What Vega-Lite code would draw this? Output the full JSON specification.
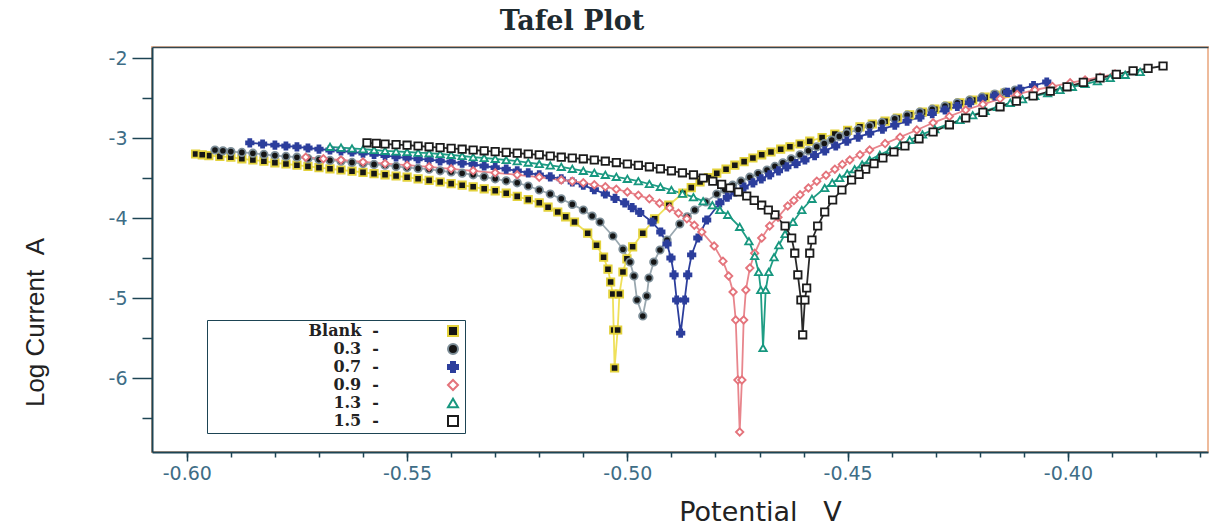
{
"$schema": "https://vega.github.io/schema/vega-lite/v6.json",
"width": 1056, "height": 405,
"autosize": {"type": "none"},
"padding": {"left": 152, "top": 47, "right": 5, "bottom": 77},
"background": "white",
"title": {"text": "Tafel Plot", "font": "DejaVu Serif", "fontSize": 27, "fontWeight": "bold", "color": "#1e2b30", "anchor": "middle", "dx": -108, "offset": 11},
"config": {
  "view": {"stroke": "#eebb9c", "strokeWidth": 2},
  "axis": {"labelFont": "DejaVu Sans", "labelFontSize": 19, "labelColor": "#3e6d86", "tickColor": "#1d4454", "tickWidth": 1.5, "domainColor": "#1d4454", "domainWidth": 2, "grid": false},
  "legend": {"orient": "none", "legendX": 55, "legendY": 273, "padding": 3, "strokeColor": "#1d4454", "fillColor": "white", "labelFont": "DejaVu Serif", "labelFontSize": 16, "labelFontWeight": "bold", "labelColor": "#222222", "labelAlign": "right", "labelOffset": -82, "symbolOffset": 235, "rowPadding": 0, "symbolSize": 100, "symbolStrokeWidth": 2, "symbolOpacity": 1}
},
"datasets": {"tafel": [
{"series":"Blank","E":-0.598,"logI":-3.20},{"series":"Blank","E":-0.595,"logI":-3.22},{"series":"Blank","E":-0.590,"logI":-3.24},{"series":"Blank","E":-0.585,"logI":-3.275},{"series":"Blank","E":-0.580,"logI":-3.31},{"series":"Blank","E":-0.575,"logI":-3.34},{"series":"Blank","E":-0.570,"logI":-3.37},{"series":"Blank","E":-0.565,"logI":-3.40},{"series":"Blank","E":-0.560,"logI":-3.43},{"series":"Blank","E":-0.555,"logI":-3.46},{"series":"Blank","E":-0.550,"logI":-3.49},{"series":"Blank","E":-0.545,"logI":-3.53},{"series":"Blank","E":-0.540,"logI":-3.57},{"series":"Blank","E":-0.535,"logI":-3.61},{"series":"Blank","E":-0.530,"logI":-3.66},{"series":"Blank","E":-0.525,"logI":-3.73},{"series":"Blank","E":-0.520,"logI":-3.81},{"series":"Blank","E":-0.5158,"logI":-3.925},{"series":"Blank","E":-0.512,"logI":-4.05},{"series":"Blank","E":-0.509,"logI":-4.19},{"series":"Blank","E":-0.507,"logI":-4.34},{"series":"Blank","E":-0.5054,"logI":-4.49},{"series":"Blank","E":-0.5044,"logI":-4.64},{"series":"Blank","E":-0.5038,"logI":-4.80},{"series":"Blank","E":-0.5033,"logI":-4.95},{"series":"Blank","E":-0.5031,"logI":-5.40},{"series":"Blank","E":-0.5029,"logI":-5.875},{"series":"Blank","E":-0.5022,"logI":-5.40},{"series":"Blank","E":-0.5018,"logI":-4.95},{"series":"Blank","E":-0.501,"logI":-4.675},{"series":"Blank","E":-0.5001,"logI":-4.51},{"series":"Blank","E":-0.4988,"logI":-4.36},{"series":"Blank","E":-0.4965,"logI":-4.19},{"series":"Blank","E":-0.4938,"logI":-4.01},{"series":"Blank","E":-0.4906,"logI":-3.84},{"series":"Blank","E":-0.4874,"logI":-3.69},{"series":"Blank","E":-0.4835,"logI":-3.55},{"series":"Blank","E":-0.4797,"logI":-3.44},{"series":"Blank","E":-0.4756,"logI":-3.34},{"series":"Blank","E":-0.4715,"logI":-3.25},{"series":"Blank","E":-0.4674,"logI":-3.175},{"series":"Blank","E":-0.4631,"logI":-3.11},{"series":"Blank","E":-0.4586,"logI":-3.04},{"series":"Blank","E":-0.4529,"logI":-2.95},{"series":"Blank","E":-0.4472,"logI":-2.86},{"series":"Blank","E":-0.4415,"logI":-2.79},{"series":"Blank","E":-0.4359,"logI":-2.71},{"series":"Blank","E":-0.4302,"logI":-2.64},{"series":"Blank","E":-0.4245,"logI":-2.56},{"series":"Blank","E":-0.4188,"logI":-2.49},{"series":"Blank","E":-0.4143,"logI":-2.44},
{"series":"Blank","E":-0.5965,"logI":-3.21},{"series":"Blank","E":-0.5925,"logI":-3.23},{"series":"Blank","E":-0.5875,"logI":-3.26},{"series":"Blank","E":-0.5825,"logI":-3.29},{"series":"Blank","E":-0.5775,"logI":-3.325},{"series":"Blank","E":-0.5725,"logI":-3.355},{"series":"Blank","E":-0.5675,"logI":-3.385},{"series":"Blank","E":-0.5625,"logI":-3.415},{"series":"Blank","E":-0.5575,"logI":-3.445},{"series":"Blank","E":-0.5525,"logI":-3.475},{"series":"Blank","E":-0.5475,"logI":-3.51},{"series":"Blank","E":-0.5425,"logI":-3.55},{"series":"Blank","E":-0.5375,"logI":-3.59},{"series":"Blank","E":-0.5325,"logI":-3.635},{"series":"Blank","E":-0.5275,"logI":-3.69},{"series":"Blank","E":-0.5225,"logI":-3.77},{"series":"Blank","E":-0.518,"logI":-3.865},{"series":"Blank","E":-0.514,"logI":-3.985},
{"series":"Blank","E":-0.4855,"logI":-3.62},{"series":"Blank","E":-0.4816,"logI":-3.495},{"series":"Blank","E":-0.4776,"logI":-3.39},{"series":"Blank","E":-0.4735,"logI":-3.295},{"series":"Blank","E":-0.4695,"logI":-3.21},{"series":"Blank","E":-0.4652,"logI":-3.14},{"series":"Blank","E":-0.4608,"logI":-3.075},{"series":"Blank","E":-0.4558,"logI":-2.995},{"series":"Blank","E":-0.45,"logI":-2.905},{"series":"Blank","E":-0.4444,"logI":-2.825},{"series":"Blank","E":-0.4387,"logI":-2.75},{"series":"Blank","E":-0.433,"logI":-2.675},{"series":"Blank","E":-0.4273,"logI":-2.60},{"series":"Blank","E":-0.4216,"logI":-2.525},{"series":"Blank","E":-0.4165,"logI":-2.465},
{"series":"0.3","E":-0.5936,"logI":-3.15},{"series":"0.3","E":-0.590,"logI":-3.17},{"series":"0.3","E":-0.585,"logI":-3.19},{"series":"0.3","E":-0.580,"logI":-3.22},{"series":"0.3","E":-0.575,"logI":-3.24},{"series":"0.3","E":-0.570,"logI":-3.27},{"series":"0.3","E":-0.565,"logI":-3.29},{"series":"0.3","E":-0.560,"logI":-3.32},{"series":"0.3","E":-0.555,"logI":-3.34},{"series":"0.3","E":-0.550,"logI":-3.37},{"series":"0.3","E":-0.545,"logI":-3.39},{"series":"0.3","E":-0.540,"logI":-3.425},{"series":"0.3","E":-0.535,"logI":-3.46},{"series":"0.3","E":-0.530,"logI":-3.51},{"series":"0.3","E":-0.525,"logI":-3.56},{"series":"0.3","E":-0.520,"logI":-3.65},{"series":"0.3","E":-0.515,"logI":-3.76},{"series":"0.3","E":-0.510,"logI":-3.90},{"series":"0.3","E":-0.5062,"logI":-4.05},{"series":"0.3","E":-0.5033,"logI":-4.225},{"series":"0.3","E":-0.501,"logI":-4.39},{"series":"0.3","E":-0.4994,"logI":-4.55},{"series":"0.3","E":-0.4985,"logI":-4.725},{"series":"0.3","E":-0.4978,"logI":-5.025},{"series":"0.3","E":-0.4965,"logI":-5.225},{"series":"0.3","E":-0.4956,"logI":-4.975},{"series":"0.3","E":-0.4951,"logI":-4.75},{"series":"0.3","E":-0.494,"logI":-4.55},{"series":"0.3","E":-0.4926,"logI":-4.40},{"series":"0.3","E":-0.491,"logI":-4.275},{"series":"0.3","E":-0.4881,"logI":-4.075},{"series":"0.3","E":-0.4847,"logI":-3.90},{"series":"0.3","E":-0.4797,"logI":-3.70},{"series":"0.3","E":-0.4761,"logI":-3.59},{"series":"0.3","E":-0.4722,"logI":-3.49},{"series":"0.3","E":-0.4683,"logI":-3.40},{"series":"0.3","E":-0.4647,"logI":-3.31},{"series":"0.3","E":-0.4608,"logI":-3.21},{"series":"0.3","E":-0.457,"logI":-3.11},{"series":"0.3","E":-0.4536,"logI":-3.025},{"series":"0.3","E":-0.4502,"logI":-2.94},{"series":"0.3","E":-0.445,"logI":-2.85},{"series":"0.3","E":-0.4393,"logI":-2.76},{"series":"0.3","E":-0.4336,"logI":-2.675},{"series":"0.3","E":-0.4279,"logI":-2.60},{"series":"0.3","E":-0.4223,"logI":-2.525},{"series":"0.3","E":-0.4166,"logI":-2.45},{"series":"0.3","E":-0.412,"logI":-2.40},
{"series":"0.3","E":-0.5918,"logI":-3.16},{"series":"0.3","E":-0.5875,"logI":-3.18},{"series":"0.3","E":-0.5825,"logI":-3.205},{"series":"0.3","E":-0.5775,"logI":-3.23},{"series":"0.3","E":-0.5725,"logI":-3.255},{"series":"0.3","E":-0.5675,"logI":-3.28},{"series":"0.3","E":-0.5625,"logI":-3.305},{"series":"0.3","E":-0.5575,"logI":-3.33},{"series":"0.3","E":-0.5525,"logI":-3.355},{"series":"0.3","E":-0.5475,"logI":-3.38},{"series":"0.3","E":-0.5425,"logI":-3.41},{"series":"0.3","E":-0.5375,"logI":-3.44},{"series":"0.3","E":-0.5325,"logI":-3.485},{"series":"0.3","E":-0.5275,"logI":-3.535},{"series":"0.3","E":-0.5225,"logI":-3.60},{"series":"0.3","E":-0.5175,"logI":-3.70},{"series":"0.3","E":-0.5125,"logI":-3.83},{"series":"0.3","E":-0.508,"logI":-3.975},
{"series":"0.3","E":-0.4864,"logI":-3.985},{"series":"0.3","E":-0.4822,"logI":-3.80},{"series":"0.3","E":-0.4779,"logI":-3.645},{"series":"0.3","E":-0.4742,"logI":-3.54},{"series":"0.3","E":-0.4703,"logI":-3.445},{"series":"0.3","E":-0.4665,"logI":-3.355},{"series":"0.3","E":-0.4628,"logI":-3.26},{"series":"0.3","E":-0.4589,"logI":-3.16},{"series":"0.3","E":-0.4553,"logI":-3.07},{"series":"0.3","E":-0.4519,"logI":-2.98},{"series":"0.3","E":-0.4476,"logI":-2.895},{"series":"0.3","E":-0.4422,"logI":-2.805},{"series":"0.3","E":-0.4365,"logI":-2.715},{"series":"0.3","E":-0.4308,"logI":-2.64},{"series":"0.3","E":-0.4251,"logI":-2.56},{"series":"0.3","E":-0.4195,"logI":-2.49},{"series":"0.3","E":-0.4143,"logI":-2.425},
{"series":"0.7","E":-0.5857,"logI":-3.06},{"series":"0.7","E":-0.580,"logI":-3.09},{"series":"0.7","E":-0.575,"logI":-3.11},{"series":"0.7","E":-0.570,"logI":-3.14},{"series":"0.7","E":-0.565,"logI":-3.16},{"series":"0.7","E":-0.560,"logI":-3.19},{"series":"0.7","E":-0.555,"logI":-3.22},{"series":"0.7","E":-0.550,"logI":-3.25},{"series":"0.7","E":-0.545,"logI":-3.27},{"series":"0.7","E":-0.540,"logI":-3.30},{"series":"0.7","E":-0.535,"logI":-3.33},{"series":"0.7","E":-0.530,"logI":-3.37},{"series":"0.7","E":-0.525,"logI":-3.41},{"series":"0.7","E":-0.520,"logI":-3.46},{"series":"0.7","E":-0.515,"logI":-3.51},{"series":"0.7","E":-0.510,"logI":-3.59},{"series":"0.7","E":-0.505,"logI":-3.70},{"series":"0.7","E":-0.5006,"logI":-3.81},{"series":"0.7","E":-0.4972,"logI":-3.93},{"series":"0.7","E":-0.4944,"logI":-4.05},{"series":"0.7","E":-0.4924,"logI":-4.175},{"series":"0.7","E":-0.491,"logI":-4.325},{"series":"0.7","E":-0.4901,"logI":-4.50},{"series":"0.7","E":-0.4894,"logI":-4.71},{"series":"0.7","E":-0.4888,"logI":-5.025},{"series":"0.7","E":-0.4879,"logI":-5.44},{"series":"0.7","E":-0.487,"logI":-5.025},{"series":"0.7","E":-0.4863,"logI":-4.71},{"series":"0.7","E":-0.4854,"logI":-4.46},{"series":"0.7","E":-0.484,"logI":-4.25},{"series":"0.7","E":-0.482,"logI":-4.025},{"series":"0.7","E":-0.479,"logI":-3.81},{"series":"0.7","E":-0.4756,"logI":-3.675},{"series":"0.7","E":-0.4715,"logI":-3.56},{"series":"0.7","E":-0.4677,"logI":-3.46},{"series":"0.7","E":-0.4638,"logI":-3.36},{"series":"0.7","E":-0.4597,"logI":-3.275},{"series":"0.7","E":-0.4552,"logI":-3.16},{"series":"0.7","E":-0.4502,"logI":-3.04},{"series":"0.7","E":-0.445,"logI":-2.94},{"series":"0.7","E":-0.4393,"logI":-2.84},{"series":"0.7","E":-0.4336,"logI":-2.74},{"series":"0.7","E":-0.4279,"logI":-2.65},{"series":"0.7","E":-0.4223,"logI":-2.56},{"series":"0.7","E":-0.4166,"logI":-2.475},{"series":"0.7","E":-0.4109,"logI":-2.39},{"series":"0.7","E":-0.4048,"logI":-2.30},
{"series":"0.7","E":-0.5828,"logI":-3.075},{"series":"0.7","E":-0.5775,"logI":-3.10},{"series":"0.7","E":-0.5725,"logI":-3.125},{"series":"0.7","E":-0.5675,"logI":-3.15},{"series":"0.7","E":-0.5625,"logI":-3.175},{"series":"0.7","E":-0.5575,"logI":-3.205},{"series":"0.7","E":-0.5525,"logI":-3.235},{"series":"0.7","E":-0.5475,"logI":-3.26},{"series":"0.7","E":-0.5425,"logI":-3.285},{"series":"0.7","E":-0.5375,"logI":-3.315},{"series":"0.7","E":-0.5325,"logI":-3.35},{"series":"0.7","E":-0.5275,"logI":-3.39},{"series":"0.7","E":-0.5225,"logI":-3.435},{"series":"0.7","E":-0.5175,"logI":-3.485},{"series":"0.7","E":-0.5125,"logI":-3.55},{"series":"0.7","E":-0.5075,"logI":-3.645},{"series":"0.7","E":-0.5028,"logI":-3.755},{"series":"0.7","E":-0.4989,"logI":-3.87},
{"series":"0.7","E":-0.4773,"logI":-3.74},{"series":"0.7","E":-0.4735,"logI":-3.615},{"series":"0.7","E":-0.4696,"logI":-3.51},{"series":"0.7","E":-0.4657,"logI":-3.41},{"series":"0.7","E":-0.4617,"logI":-3.32},{"series":"0.7","E":-0.4575,"logI":-3.22},{"series":"0.7","E":-0.4527,"logI":-3.10},{"series":"0.7","E":-0.4476,"logI":-2.99},{"series":"0.7","E":-0.4421,"logI":-2.89},{"series":"0.7","E":-0.4365,"logI":-2.79},{"series":"0.7","E":-0.4308,"logI":-2.695},{"series":"0.7","E":-0.4251,"logI":-2.605},{"series":"0.7","E":-0.4195,"logI":-2.515},{"series":"0.7","E":-0.4137,"logI":-2.43},{"series":"0.7","E":-0.4078,"logI":-2.345},
{"series":"0.9","E":-0.573,"logI":-3.24},{"series":"0.9","E":-0.569,"logI":-3.26},{"series":"0.9","E":-0.565,"logI":-3.275},{"series":"0.9","E":-0.560,"logI":-3.30},{"series":"0.9","E":-0.555,"logI":-3.32},{"series":"0.9","E":-0.550,"logI":-3.34},{"series":"0.9","E":-0.545,"logI":-3.36},{"series":"0.9","E":-0.540,"logI":-3.385},{"series":"0.9","E":-0.535,"logI":-3.41},{"series":"0.9","E":-0.530,"logI":-3.435},{"series":"0.9","E":-0.525,"logI":-3.46},{"series":"0.9","E":-0.520,"logI":-3.49},{"series":"0.9","E":-0.515,"logI":-3.525},{"series":"0.9","E":-0.510,"logI":-3.56},{"series":"0.9","E":-0.505,"logI":-3.61},{"series":"0.9","E":-0.500,"logI":-3.675},{"series":"0.9","E":-0.495,"logI":-3.76},{"series":"0.9","E":-0.4904,"logI":-3.875},{"series":"0.9","E":-0.4865,"logI":-4.01},{"series":"0.9","E":-0.4831,"logI":-4.175},{"series":"0.9","E":-0.4803,"logI":-4.35},{"series":"0.9","E":-0.4783,"logI":-4.54},{"series":"0.9","E":-0.477,"logI":-4.725},{"series":"0.9","E":-0.476,"logI":-4.925},{"series":"0.9","E":-0.4754,"logI":-5.275},{"series":"0.9","E":-0.4749,"logI":-6.025},{"series":"0.9","E":-0.4745,"logI":-6.675},{"series":"0.9","E":-0.474,"logI":-6.025},{"series":"0.9","E":-0.4736,"logI":-5.275},{"series":"0.9","E":-0.4731,"logI":-4.90},{"series":"0.9","E":-0.4722,"logI":-4.625},{"series":"0.9","E":-0.4711,"logI":-4.44},{"series":"0.9","E":-0.4695,"logI":-4.25},{"series":"0.9","E":-0.4677,"logI":-4.10},{"series":"0.9","E":-0.4658,"logI":-3.99},{"series":"0.9","E":-0.4636,"logI":-3.85},{"series":"0.9","E":-0.4608,"logI":-3.71},{"series":"0.9","E":-0.457,"logI":-3.54},{"series":"0.9","E":-0.4529,"logI":-3.39},{"series":"0.9","E":-0.4495,"logI":-3.275},{"series":"0.9","E":-0.445,"logI":-3.15},{"series":"0.9","E":-0.4381,"logI":-2.99},{"series":"0.9","E":-0.4306,"logI":-2.81},{"series":"0.9","E":-0.4232,"logI":-2.65},{"series":"0.9","E":-0.4154,"logI":-2.51},{"series":"0.9","E":-0.4075,"logI":-2.40},{"series":"0.9","E":-0.3995,"logI":-2.31},{"series":"0.9","E":-0.3927,"logI":-2.24},{"series":"0.9","E":-0.3893,"logI":-2.20},
{"series":"0.9","E":-0.5125,"logI":-3.54},{"series":"0.9","E":-0.5075,"logI":-3.585},{"series":"0.9","E":-0.5025,"logI":-3.64},{"series":"0.9","E":-0.4975,"logI":-3.715},{"series":"0.9","E":-0.4927,"logI":-3.815},{"series":"0.9","E":-0.4884,"logI":-3.94},{"series":"0.9","E":-0.4848,"logI":-4.09},
{"series":"0.9","E":-0.4622,"logI":-3.78},{"series":"0.9","E":-0.4589,"logI":-3.625},{"series":"0.9","E":-0.4549,"logI":-3.465},{"series":"0.9","E":-0.4512,"logI":-3.33},{"series":"0.9","E":-0.4472,"logI":-3.21},{"series":"0.9","E":-0.4415,"logI":-3.07},{"series":"0.9","E":-0.4343,"logI":-2.90},{"series":"0.9","E":-0.4269,"logI":-2.73},{"series":"0.9","E":-0.4193,"logI":-2.58},{"series":"0.9","E":-0.4115,"logI":-2.455},{"series":"0.9","E":-0.4035,"logI":-2.355},{"series":"0.9","E":-0.3961,"logI":-2.275},
{"series":"1.3","E":-0.5675,"logI":-3.11},{"series":"1.3","E":-0.565,"logI":-3.12},{"series":"1.3","E":-0.560,"logI":-3.14},{"series":"1.3","E":-0.555,"logI":-3.16},{"series":"1.3","E":-0.550,"logI":-3.175},{"series":"1.3","E":-0.545,"logI":-3.19},{"series":"1.3","E":-0.540,"logI":-3.21},{"series":"1.3","E":-0.535,"logI":-3.24},{"series":"1.3","E":-0.530,"logI":-3.26},{"series":"1.3","E":-0.525,"logI":-3.29},{"series":"1.3","E":-0.520,"logI":-3.325},{"series":"1.3","E":-0.515,"logI":-3.36},{"series":"1.3","E":-0.510,"logI":-3.41},{"series":"1.3","E":-0.505,"logI":-3.46},{"series":"1.3","E":-0.500,"logI":-3.51},{"series":"1.3","E":-0.495,"logI":-3.575},{"series":"1.3","E":-0.490,"logI":-3.65},{"series":"1.3","E":-0.485,"logI":-3.74},{"series":"1.3","E":-0.4807,"logI":-3.84},{"series":"1.3","E":-0.4772,"logI":-3.96},{"series":"1.3","E":-0.4745,"logI":-4.11},{"series":"1.3","E":-0.4724,"logI":-4.29},{"series":"1.3","E":-0.4711,"logI":-4.475},{"series":"1.3","E":-0.4702,"logI":-4.675},{"series":"1.3","E":-0.4697,"logI":-4.90},{"series":"1.3","E":-0.4692,"logI":-5.625},{"series":"1.3","E":-0.4686,"logI":-4.90},{"series":"1.3","E":-0.4679,"logI":-4.675},{"series":"1.3","E":-0.4667,"logI":-4.49},{"series":"1.3","E":-0.4656,"logI":-4.34},{"series":"1.3","E":-0.4642,"logI":-4.20},{"series":"1.3","E":-0.4624,"logI":-4.05},{"series":"1.3","E":-0.4604,"logI":-3.90},{"series":"1.3","E":-0.4581,"logI":-3.76},{"series":"1.3","E":-0.4552,"logI":-3.625},{"series":"1.3","E":-0.4518,"logI":-3.50},{"series":"1.3","E":-0.4484,"logI":-3.39},{"series":"1.3","E":-0.445,"logI":-3.275},{"series":"1.3","E":-0.4404,"logI":-3.15},{"series":"1.3","E":-0.4359,"logI":-3.025},{"series":"1.3","E":-0.4302,"logI":-2.89},{"series":"1.3","E":-0.4245,"logI":-2.775},{"series":"1.3","E":-0.4188,"logI":-2.66},{"series":"1.3","E":-0.4131,"logI":-2.56},{"series":"1.3","E":-0.4075,"logI":-2.475},{"series":"1.3","E":-0.4018,"logI":-2.40},{"series":"1.3","E":-0.3961,"logI":-2.325},{"series":"1.3","E":-0.3904,"logI":-2.25},{"series":"1.3","E":-0.3836,"logI":-2.175},
{"series":"1.3","E":-0.5625,"logI":-3.13},{"series":"1.3","E":-0.5575,"logI":-3.15},{"series":"1.3","E":-0.5525,"logI":-3.168},{"series":"1.3","E":-0.5475,"logI":-3.183},{"series":"1.3","E":-0.5425,"logI":-3.20},{"series":"1.3","E":-0.5375,"logI":-3.225},{"series":"1.3","E":-0.5325,"logI":-3.25},{"series":"1.3","E":-0.5275,"logI":-3.275},{"series":"1.3","E":-0.5225,"logI":-3.307},{"series":"1.3","E":-0.5175,"logI":-3.342},{"series":"1.3","E":-0.5125,"logI":-3.385},{"series":"1.3","E":-0.5075,"logI":-3.435},{"series":"1.3","E":-0.5025,"logI":-3.485},{"series":"1.3","E":-0.4975,"logI":-3.54},{"series":"1.3","E":-0.4925,"logI":-3.61},{"series":"1.3","E":-0.4875,"logI":-3.695},{"series":"1.3","E":-0.4828,"logI":-3.79},{"series":"1.3","E":-0.479,"logI":-3.90},
{"series":"1.3","E":-0.4535,"logI":-3.56},{"series":"1.3","E":-0.4501,"logI":-3.445},{"series":"1.3","E":-0.4467,"logI":-3.33},{"series":"1.3","E":-0.4427,"logI":-3.21},{"series":"1.3","E":-0.4381,"logI":-3.085},{"series":"1.3","E":-0.433,"logI":-2.955},{"series":"1.3","E":-0.4273,"logI":-2.83},{"series":"1.3","E":-0.4216,"logI":-2.715},{"series":"1.3","E":-0.416,"logI":-2.61},{"series":"1.3","E":-0.4103,"logI":-2.515},{"series":"1.3","E":-0.4046,"logI":-2.44},{"series":"1.3","E":-0.399,"logI":-2.36},{"series":"1.3","E":-0.3933,"logI":-2.29},{"series":"1.3","E":-0.387,"logI":-2.21},
{"series":"1.5","E":-0.5591,"logI":-3.06},{"series":"1.5","E":-0.555,"logI":-3.075},{"series":"1.5","E":-0.550,"logI":-3.09},{"series":"1.5","E":-0.545,"logI":-3.11},{"series":"1.5","E":-0.540,"logI":-3.13},{"series":"1.5","E":-0.535,"logI":-3.15},{"series":"1.5","E":-0.530,"logI":-3.17},{"series":"1.5","E":-0.525,"logI":-3.19},{"series":"1.5","E":-0.520,"logI":-3.21},{"series":"1.5","E":-0.515,"logI":-3.24},{"series":"1.5","E":-0.510,"logI":-3.26},{"series":"1.5","E":-0.505,"logI":-3.29},{"series":"1.5","E":-0.500,"logI":-3.325},{"series":"1.5","E":-0.495,"logI":-3.36},{"series":"1.5","E":-0.490,"logI":-3.41},{"series":"1.5","E":-0.485,"logI":-3.46},{"series":"1.5","E":-0.4806,"logI":-3.54},{"series":"1.5","E":-0.4767,"logI":-3.625},{"series":"1.5","E":-0.4729,"logI":-3.725},{"series":"1.5","E":-0.4695,"logI":-3.84},{"series":"1.5","E":-0.4665,"logI":-3.96},{"series":"1.5","E":-0.4642,"logI":-4.10},{"series":"1.5","E":-0.4627,"logI":-4.25},{"series":"1.5","E":-0.462,"logI":-4.44},{"series":"1.5","E":-0.4613,"logI":-4.71},{"series":"1.5","E":-0.4606,"logI":-5.025},{"series":"1.5","E":-0.4602,"logI":-5.46},{"series":"1.5","E":-0.4597,"logI":-5.025},{"series":"1.5","E":-0.4593,"logI":-4.875},{"series":"1.5","E":-0.4586,"logI":-4.44},{"series":"1.5","E":-0.4581,"logI":-4.275},{"series":"1.5","E":-0.4568,"logI":-4.10},{"series":"1.5","E":-0.4552,"logI":-3.925},{"series":"1.5","E":-0.4534,"logI":-3.775},{"series":"1.5","E":-0.4513,"logI":-3.65},{"series":"1.5","E":-0.4491,"logI":-3.525},{"series":"1.5","E":-0.4459,"logI":-3.39},{"series":"1.5","E":-0.442,"logI":-3.25},{"series":"1.5","E":-0.437,"logI":-3.10},{"series":"1.5","E":-0.4306,"logI":-2.925},{"series":"1.5","E":-0.4232,"logI":-2.75},{"series":"1.5","E":-0.4154,"logI":-2.61},{"series":"1.5","E":-0.4079,"logI":-2.475},{"series":"1.5","E":-0.4002,"logI":-2.36},{"series":"1.5","E":-0.3927,"logI":-2.25},{"series":"1.5","E":-0.3852,"logI":-2.16},{"series":"1.5","E":-0.3784,"logI":-2.10},
{"series":"1.5","E":-0.5570,"logI":-3.067},{"series":"1.5","E":-0.5525,"logI":-3.083},{"series":"1.5","E":-0.5475,"logI":-3.10},{"series":"1.5","E":-0.5425,"logI":-3.12},{"series":"1.5","E":-0.5375,"logI":-3.14},{"series":"1.5","E":-0.5325,"logI":-3.16},{"series":"1.5","E":-0.5275,"logI":-3.18},{"series":"1.5","E":-0.5225,"logI":-3.20},{"series":"1.5","E":-0.5175,"logI":-3.225},{"series":"1.5","E":-0.5125,"logI":-3.25},{"series":"1.5","E":-0.5075,"logI":-3.275},{"series":"1.5","E":-0.5025,"logI":-3.307},{"series":"1.5","E":-0.4975,"logI":-3.342},{"series":"1.5","E":-0.4925,"logI":-3.385},{"series":"1.5","E":-0.4875,"logI":-3.435},{"series":"1.5","E":-0.4828,"logI":-3.50},{"series":"1.5","E":-0.4786,"logI":-3.58},{"series":"1.5","E":-0.4748,"logI":-3.675},{"series":"1.5","E":-0.4712,"logI":-3.78},{"series":"1.5","E":-0.468,"logI":-3.90},
{"series":"1.5","E":-0.4474,"logI":-3.455},{"series":"1.5","E":-0.444,"logI":-3.32},{"series":"1.5","E":-0.4395,"logI":-3.175},{"series":"1.5","E":-0.4338,"logI":-3.01},{"series":"1.5","E":-0.4269,"logI":-2.835},{"series":"1.5","E":-0.4193,"logI":-2.68},{"series":"1.5","E":-0.4117,"logI":-2.54},{"series":"1.5","E":-0.404,"logI":-2.415},{"series":"1.5","E":-0.3965,"logI":-2.305},{"series":"1.5","E":-0.389,"logI":-2.205},{"series":"1.5","E":-0.3818,"logI":-2.13}
]},
"data": {"name": "tafel"},
"layer": [
  {
    "mark": {"type": "line", "strokeWidth": 1.8},
    "encoding": {
      "x": {"field": "E", "type": "quantitative", "scale": {"domain": [-0.6079, -0.3682], "nice": false, "zero": false},
        "axis": {"orient": "bottom", "values": [-0.6, -0.55, -0.5, -0.45, -0.4], "format": ".2f", "labelExpr": "replace(datum.label, '\u2212', '-')", "tickSize": 9, "labelPadding": 3,
          "title": "Potential\u00a0\u00a0\u00a0V", "titleX": 608, "titleY": 60, "titleBaseline": "middle", "titleAlign": "center", "titleFont": "DejaVu Sans", "titleFontSize": 27, "titleFontWeight": "normal", "titleColor": "#222222"}},
      "y": {"field": "logI", "type": "quantitative", "scale": {"domain": [-6.925, -1.8625], "nice": false, "zero": false},
        "axis": {"orient": "left", "values": [-2, -3, -4, -5, -6], "format": "d", "labelExpr": "replace(datum.label, '\u2212', '-')", "tickSize": 20, "labelPadding": 5,
          "title": "Log Current\u00a0\u00a0A", "titleX": -117, "titleY": 275, "titleAngle": -90, "titleBaseline": "middle", "titleAlign": "center", "titleFont": "Liberation Sans", "titleFontSize": 26, "titleFontWeight": "normal", "titleColor": "#222222"}},
      "color": {"field": "series", "type": "nominal", "scale": {"domain": ["1.5", "1.3", "0.9", "0.7", "0.3", "Blank"], "range": ["#2a2a2a", "#1f9d84", "#e8858c", "#2c3e9c", "#9aa8b0", "#efe05a"]}, "legend": null}
    }
  },
  {
    "mark": {"type": "point", "size": 55, "strokeWidth": 1.8, "opacity": 1},
    "encoding": {
      "x": {"field": "E", "type": "quantitative", "scale": {"domain": [-0.6079, -0.3682], "nice": false, "zero": false},
        "axis": {"orient": "bottom", "values": [-0.6, -0.59, -0.58, -0.57, -0.56, -0.55, -0.54, -0.53, -0.52, -0.51, -0.5, -0.49, -0.48, -0.47, -0.46, -0.45, -0.44, -0.43, -0.42, -0.41, -0.4, -0.39, -0.38, -0.37], "labels": false, "domain": false, "tickSize": 5, "title": null}},
      "y": {"field": "logI", "type": "quantitative", "scale": {"domain": [-6.925, -1.8625], "nice": false, "zero": false},
        "axis": {"orient": "left", "values": [-2.5, -3.5, -4.5, -5.5, -6.5], "labels": false, "domain": false, "tickSize": 10, "title": null}},
      "stroke": {"field": "series", "type": "nominal", "scale": {"domain": ["Blank", "0.3", "0.7", "0.9", "1.3", "1.5"], "range": ["#e3d23c", "#7d8e98", "#2c3e9c", "#e4737b", "#17977f", "#1c1c1c"]},
        "legend": {"title": null, "labelExpr": "datum.label + '\u00a0\u00a0-'"}},
      "fill": {"field": "series", "type": "nominal", "scale": {"domain": ["Blank", "0.3", "0.7", "0.9", "1.3", "1.5"], "range": ["#151515", "#151515", "#2c3e9c", "#ffffff", "#ffffff", "#ffffff"]},
        "legend": {"title": null, "labelExpr": "datum.label + '\u00a0\u00a0-'"}},
      "shape": {"field": "series", "type": "nominal", "scale": {"domain": ["Blank", "0.3", "0.7", "0.9", "1.3", "1.5"], "range": ["square", "circle", "cross", "diamond", "triangle-up", "square"]},
        "legend": {"title": null, "labelExpr": "datum.label + '\u00a0\u00a0-'"}}
    }
  },
  {
    "mark": {"type": "point", "opacity": 0},
    "encoding": {
      "x": {"field": "E", "type": "quantitative", "scale": {"domain": [-0.6079, -0.3682], "nice": false, "zero": false},
        "axis": {"orient": "top", "labels": false, "ticks": false, "domain": true, "domainColor": "#34474f", "domainWidth": 1.5, "title": null}},
      "y": {"field": "logI", "type": "quantitative", "scale": {"domain": [-6.925, -1.8625], "nice": false, "zero": false}, "axis": null}
    }
  }
],
"resolve": {"axis": {"x": "independent", "y": "independent"}}
}
